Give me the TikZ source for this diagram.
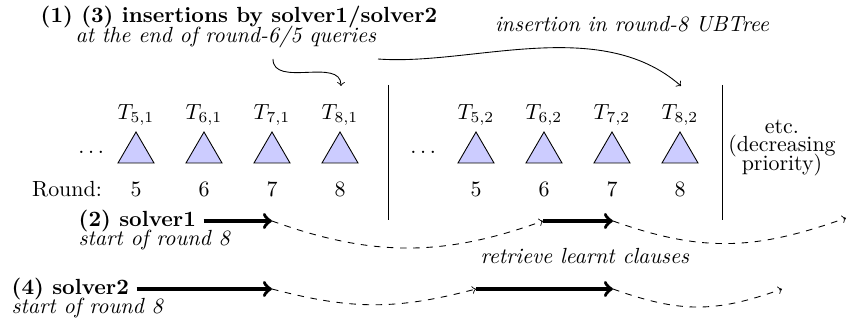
\documentclass[tikz,border=0pt]{standalone}
\usepackage{amsmath}
\usepackage{xcolor}
\usepackage{tikz}

\begin{document}
\begin{tikzpicture}[x=0.4566pt,y=-0.4566pt,
    tree/.style={fill=blue!20,draw=black},
    run/.style={ultra thick,->},
    wait/.style={dashed,->}]
    \useasboundingbox (0,0) rectangle (847,323);
    % insertions into the trees
    \node[anchor=west] (ins) at (33,17) {\textbf{(1) (3) insertions by solver1/solver2}};
    \node (insend) at (226,37) {\textit{at the end of round-6/5 queries}};
    \node (ub) at (632,24) {\textit{insertion in round-8 UBTree}};
    \coordinate (from1) at (273,59);
    \coordinate (to1) at (341,86);
    \coordinate (from2) at (378,59);
    \coordinate (to2) at (681,86);
    \draw[->] (from1) .. controls (273,88) and (341,57) .. (to1);
    \draw[->] (from2) .. controls (470,66) and (600,15) .. (to2);

    % the trees, one group per solver
    \node (dots1) at (93,152) {$\dots$};
    \node (dots2) at (425,152) {$\dots$};
    \foreach \r/\x in {5/136,6/204,7/272,8/340} {
        \filldraw[tree] (\x-18,163) -- (\x,132) -- (\x+18,163) -- cycle;
        \node at (\x,115) {$T_{\r,1}$};
        \node at (\x,189) {\r};
        \filldraw[tree] (\x+322,163) -- (\x+340,132) -- (\x+358,163) -- cycle;
        \node at (\x+340,115) {$T_{\r,2}$};
        \node at (\x+340,189) {\r};
    }
    \node (round) at (67,189) {Round:};
    \draw (388,85) -- (388,220);
    \draw (722,85) -- (722,220);
    \node[align=center] (etc) at (782,148) {etc.\\[-3.5pt](decreasing\\[-3.5pt]priority)};

    % solver1
    \node[anchor=west] (s1) at (71,221) {\textbf{(2) solver1}};
    \node[anchor=west] (s1t) at (71,240) {\textit{start of round 8}};
    \coordinate (a1) at (272,221);
    \coordinate (b1) at (543,221);
    \coordinate (c1) at (613,221);
    \coordinate (d1) at (846,218);
    \draw[run] (s1.east) -- (a1);
    \draw[wait] (a1) .. controls (372,257) and (443,257) .. (b1);
    \draw[run] (b1) -- (c1);
    \draw[wait] (c1) .. controls (703,253) and (756,250) .. (d1);

    \node (retr) at (585,256) {\textit{retrieve learnt clauses}};

    % solver2
    \node[anchor=west] (s2) at (4,289) {\textbf{(4) solver2}};
    \node[anchor=west] (s2t) at (4,308) {\textit{start of round 8}};
    \coordinate (a2) at (272,289);
    \coordinate (b2) at (476,289);
    \coordinate (c2) at (613,289);
    \coordinate (d2) at (782,289);
    \draw[run] (s2.east) -- (a2);
    \draw[wait] (a2) .. controls (352,310) and (396,310) .. (b2);
    \draw[run] (b2) -- (c2);
    \draw[wait] (c2) .. controls (680,313) and (715,313) .. (d2);
\end{tikzpicture}
\end{document}
